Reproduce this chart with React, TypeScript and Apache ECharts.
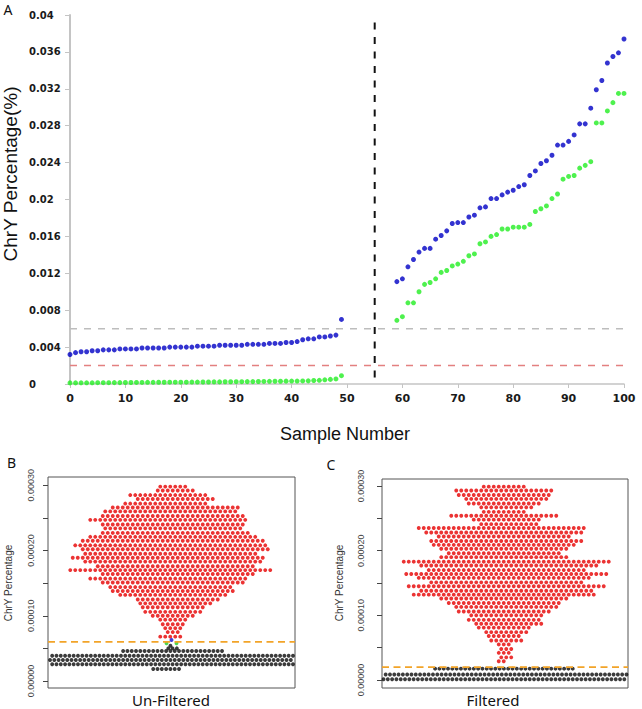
import React, { useEffect, useRef } from 'react';
import * as echarts from 'echarts';

// ---------- Panel A: ChrY percentage by sample number ----------
const leftSampleStart = 0;
const rightSampleStart = 59;
const splitSample = 55;
const splitTop = 0.0392;
const grayThreshold = 0.006;
const redThreshold = 0.002;

const blueLeft = [
  0.0032, 0.0034, 0.0035, 0.0035, 0.0036, 0.0036, 0.0037, 0.0037, 0.0037, 0.0038,
  0.0038, 0.0038, 0.0038, 0.0039, 0.0039, 0.0039, 0.0039, 0.0039, 0.004, 0.004,
  0.004, 0.004, 0.004, 0.0041, 0.0041, 0.0041, 0.0041, 0.0042, 0.0042, 0.0042,
  0.0042, 0.0042, 0.0043, 0.0043, 0.0043, 0.0043, 0.0044, 0.0044, 0.0044, 0.0045,
  0.0045, 0.0046, 0.0048, 0.0049, 0.0049, 0.0051, 0.0051, 0.0052, 0.0053, 0.007,
];
const greenLeft = [
  0.00012, 0.00012, 0.00013, 0.00013, 0.00013, 0.00014, 0.00014, 0.00014, 0.00015, 0.00015,
  0.00016, 0.00016, 0.00017, 0.00017, 0.00018, 0.00018, 0.00019, 0.00019, 0.0002, 0.0002,
  0.0002, 0.0002, 0.00021, 0.00021, 0.00022, 0.00022, 0.00023, 0.00023, 0.00024, 0.00024,
  0.00025, 0.00025, 0.00026, 0.00026, 0.00027, 0.00028, 0.00029, 0.0003, 0.0003, 0.00031,
  0.00032, 0.00032, 0.00033, 0.00034, 0.00038, 0.0004, 0.00045, 0.0005, 0.00055, 0.0009,
];
const blueRight = [
  0.0111, 0.0114, 0.0127, 0.0135, 0.0143, 0.0147, 0.0147, 0.0157, 0.0161, 0.0166,
  0.0174, 0.0175, 0.0175, 0.0181, 0.0183, 0.0191, 0.0192, 0.0201, 0.0201, 0.0205,
  0.0208, 0.021, 0.0214, 0.0216, 0.0226, 0.0231, 0.0239, 0.0242, 0.0248, 0.0259,
  0.0259, 0.0263, 0.027, 0.0282, 0.0282, 0.0299, 0.0319, 0.0329, 0.0348, 0.0355,
  0.0359, 0.0374,
];
const greenRight = [
  0.0069, 0.0073, 0.0088, 0.0088, 0.01, 0.0108, 0.011, 0.0114, 0.0121, 0.0123,
  0.0128, 0.013, 0.0133, 0.0139, 0.0141, 0.0152, 0.0154, 0.016, 0.0162, 0.0168,
  0.0168, 0.017, 0.017, 0.017, 0.0173, 0.0187, 0.019, 0.0193, 0.0201, 0.0206,
  0.0222, 0.0225, 0.0226, 0.0234, 0.0237, 0.0241, 0.0283, 0.0283, 0.0296, 0.0305,
  0.0315, 0.0315,
];

// ---------- Panels B / C: beeswarm rows [value, dots left of centre, dots right of centre] ----------
const bThreshold = 0.00006;
const cThreshold = 0.00002;

const bRedRows: [number, number, number][] = [
  [0.000298, 2, 3], [0.000292, 3, 4], [0.000285, 8, 7], [0.000279, 7, 8], [0.000272, 9, 7],
  [0.000266, 12, 13], [0.00026, 13, 13], [0.000253, 14, 14], [0.000247, 16, 15], [0.00024, 14, 14],
  [0.000234, 13, 14], [0.000227, 14, 15], [0.000221, 16, 17], [0.000215, 18, 18], [0.000208, 19, 19],
  [0.000202, 18, 19], [0.000195, 17, 17], [0.000189, 20, 18], [0.000183, 17, 18], [0.000176, 15, 16],
  [0.00017, 20, 20], [0.000164, 14, 16], [0.000157, 16, 15], [0.000151, 14, 14], [0.000144, 12, 12],
  [0.000138, 12, 12], [0.000132, 10, 11], [0.000125, 7, 9], [0.000119, 6, 8], [0.000113, 6, 6],
  [0.000106, 5, 6], [0.0001, 4, 4], [0.000094, 2, 3], [0.000087, 2, 2], [0.000081, 1, 2],
  [0.000075, 1, 1], [0.000068, 2, 2],
];
const bBlackRows: [number, number, number][] = [
  [0.0000541, 0, 0], [0.0000501, 1, 1], [0.000046, 11, 12],
  [0.0000388, 28, 28], [0.0000322, 28, 28], [0.0000256, 28, 28], [0.0000184, 4, 2],
];
const bGreenValues = [0.0000578, 0.0000578];
const bBlueValues = [0.0000629];

const cRedRows: [number, number, number][] = [
  [0.000299, 4, 4], [0.000293, 10, 9], [0.000286, 9, 9], [0.00028, 8, 8], [0.000273, 7, 7],
  [0.000267, 5, 5], [0.00026, 4, 4], [0.000254, 11, 10], [0.000248, 6, 7], [0.000241, 5, 6],
  [0.000235, 17, 16], [0.000228, 16, 15], [0.000222, 13, 13], [0.000215, 15, 15], [0.000209, 14, 14],
  [0.000203, 13, 12], [0.000196, 11, 11], [0.00019, 13, 12], [0.000183, 20, 21], [0.000177, 17, 18],
  [0.00017, 15, 16], [0.000164, 20, 20], [0.000158, 17, 17], [0.000151, 15, 15], [0.000145, 19, 20],
  [0.000138, 17, 17], [0.000132, 18, 18], [0.000126, 13, 12], [0.000119, 11, 11], [0.000113, 10, 10],
  [0.000106, 9, 9], [0.0001, 7, 7], [0.000093, 7, 7], [0.000087, 6, 7], [0.000081, 5, 5],
  [0.000074, 4, 4], [0.000068, 3, 3], [0.000061, 3, 3], [0.000055, 1, 1], [0.000048, 1, 1],
  [0.000042, 1, 1], [0.000035, 1, 1], [0.000029, 1, 0],
];
const cBlackRows: [number, number, number][] = [
  [0.0000175, 16, 16], [0.0000085, 28, 28], [0.0000012, 28, 28],
];

const beeTicks = ['0.00000', '0.00010', '0.00020', '0.00030'];

function samples(start: number, values: number[]) {
  return values.map((v, i) => [start + i, v]);
}

function swarm(rows: [number, number, number][], pitch: number) {
  const pts: number[][] = [];
  rows.forEach(([y, nl, nr], i) => {
    const off = i % 2 === 0 ? -0.25 : 0.25;
    for (let k = -nl; k <= nr; k++) pts.push([(k + off) * pitch, y]);
  });
  return pts;
}

function flank(values: number[]) {
  return values.map((v, k) => [(k % 2 === 0 ? -1 : 1) * (1 + Math.floor(k / 2)), v]);
}

function centre(values: number[]) {
  return values.map((v) => [0, v]);
}

const tickFont = { fontFamily: 'DejaVu Sans', fontSize: 10, fontWeight: 'bold' as const, color: '#1a1a1a' };

function beeAxis(gridIndex: number, margin: number) {
  return {
    gridIndex,
    type: 'value',
    min: 0,
    max: 0.0003,
    interval: 0.00005,
    axisLine: { show: false, onZero: false },
    axisTick: { show: true, length: 5, lineStyle: { color: '#444' } },
    splitLine: { show: false },
    axisLabel: {
      rotate: 90,
      margin,
      fontFamily: 'Liberation Sans',
      fontSize: 9,
      color: '#444',
      formatter: (v: number) => {
        const idx = Math.round((v / 0.0001) * 2);
        return idx % 2 === 0 ? beeTicks[idx / 2] : '';
      },
    },
  };
}

function text(t: string, x: number, y: number, size: number, family: string, extra: any = {}) {
  const { fill, align, valign, ...rest } = extra;
  return {
    type: 'text',
    x,
    y,
    silent: true,
    ...rest,
    style: {
      text: t,
      fontSize: size,
      fontFamily: family,
      fill: fill || '#111',
      align: align || 'center',
      textAlign: align || 'center',
      verticalAlign: valign || 'middle',
      textVerticalAlign: valign || 'middle',
    },
  };
}

export default function App() {
  const ref = useRef<HTMLDivElement>(null);
  useEffect(() => {
    document.body.style.margin = '0';
    const chart = echarts.init(ref.current!, null, { renderer: 'svg' });
    const dash = (color: string, width: number, d: number[]) => ({ color, width, type: d });
    const bee = (xi: number, color: string, data: number[][]) => ({
      type: 'scatter', xAxisIndex: xi, yAxisIndex: xi, symbolSize: 3.9, itemStyle: { color }, data,
    });
    chart.setOption({
      animation: false,
      backgroundColor: '#fff',
      grid: [
        { left: 70, top: 15, width: 554, height: 369 },
        { left: 48, top: 485.3, width: 247, height: 195.7 },
        { left: 382, top: 486, width: 246, height: 194 },
      ],
      xAxis: [
        {
          gridIndex: 0, type: 'value', min: 0, max: 100, interval: 10,
          axisLine: { show: true, onZero: false, lineStyle: { color: '#c4c4c4', width: 1.5 } },
          axisTick: { show: true, length: 4, lineStyle: { color: '#c4c4c4' } },
          axisLabel: { margin: 9, ...tickFont, fontSize: 11 },
          splitLine: { show: false },
        },
        { gridIndex: 1, type: 'value', min: -24.7, max: 24.7, show: false },
        { gridIndex: 2, type: 'value', min: -24.6, max: 24.6, show: false },
      ],
      yAxis: [
        {
          gridIndex: 0, type: 'value', min: 0, max: 0.04, interval: 0.004,
          axisLine: { show: true, onZero: false, lineStyle: { color: '#c4c4c4', width: 2 } },
          axisTick: { show: true, length: 5, lineStyle: { color: '#c4c4c4' } },
          splitLine: { show: false },
          axisLabel: {
            ...tickFont,
            align: 'left',
            margin: 41,
            padding: [0, 0, 6, 0],
            formatter: (v: number) => String(parseFloat(v.toFixed(4))),
          },
        },
        beeAxis(1, 13),
        beeAxis(2, 17),
      ],
      series: [
        { type: 'line', xAxisIndex: 0, yAxisIndex: 0, symbol: 'none', silent: true, data: [[0, grayThreshold], [100, grayThreshold]], lineStyle: dash('#bdbdbd', 1.5, [7, 7]) },
        { type: 'line', xAxisIndex: 0, yAxisIndex: 0, symbol: 'none', silent: true, data: [[0, redThreshold], [100, redThreshold]], lineStyle: dash('#e38080', 1.5, [7, 7]) },
        { type: 'line', xAxisIndex: 0, yAxisIndex: 0, symbol: 'none', silent: true, data: [[splitSample, splitTop], [splitSample, 0]], lineStyle: dash('#111', 2, [7, 7.5]) },
        { type: 'scatter', xAxisIndex: 0, yAxisIndex: 0, symbolSize: 5, itemStyle: { color: '#0000c4' }, data: [...samples(leftSampleStart, blueLeft), ...samples(rightSampleStart, blueRight)] },
        { type: 'scatter', xAxisIndex: 0, yAxisIndex: 0, symbolSize: 5, itemStyle: { color: '#22ee22' }, data: [...samples(leftSampleStart, greenLeft), ...samples(rightSampleStart, greenRight)] },

        { type: 'line', xAxisIndex: 1, yAxisIndex: 1, symbol: 'none', silent: true, data: [[-24.7, bThreshold], [24.7, bThreshold]], lineStyle: dash('#f2a428', 1.8, [7, 4.5]) },
        bee(1, '#e60000', swarm(bRedRows, 1)),
        bee(1, '#0a0a0a', swarm(bBlackRows, 0.86)),
        bee(1, '#22cc22', flank(bGreenValues)),
        bee(1, '#1010d0', centre(bBlueValues)),

        { type: 'line', xAxisIndex: 2, yAxisIndex: 2, symbol: 'none', silent: true, data: [[-24.6, cThreshold], [24.6, cThreshold]], lineStyle: dash('#f2a428', 1.8, [7, 4.5]) },
        bee(2, '#e60000', swarm(cRedRows, 1)),
        bee(2, '#0a0a0a', swarm(cBlackRows, 0.86)),
      ],
      graphic: [
        { type: 'rect', silent: true, shape: { x: 48, y: 477, width: 247, height: 211 }, style: { fill: 'none', stroke: '#555', lineWidth: 1 } },
        { type: 'rect', silent: true, shape: { x: 382, y: 479, width: 246, height: 209 }, style: { fill: 'none', stroke: '#555', lineWidth: 1 } },
        text('A', 8, 9.5, 14, 'Noto Sans'),
        text('B', 11.5, 462.5, 14, 'Noto Sans'),
        text('C', 331, 464, 14, 'Noto Sans'),
        text('Sample Number', 345, 434, 18, 'Liberation Sans'),
        text('ChrY Percentage(%)', 10, 174, 19, 'Liberation Sans', { rotation: Math.PI / 2 }),
        text('ChrY Percentage', 8.5, 583, 10, 'Liberation Sans', { rotation: Math.PI / 2, fill: '#333' }),
        text('ChrY Percentage', 339, 583, 10, 'Liberation Sans', { rotation: Math.PI / 2, fill: '#333' }),
        text('Un-Filtered', 171, 700, 15, 'Noto Sans'),
        text('Filtered', 493, 700, 15, 'Noto Sans'),
      ],
    });
    return () => chart.dispose();
  }, []);
  return <div ref={ref} style={{ width: 642, height: 709 }} />;
}
